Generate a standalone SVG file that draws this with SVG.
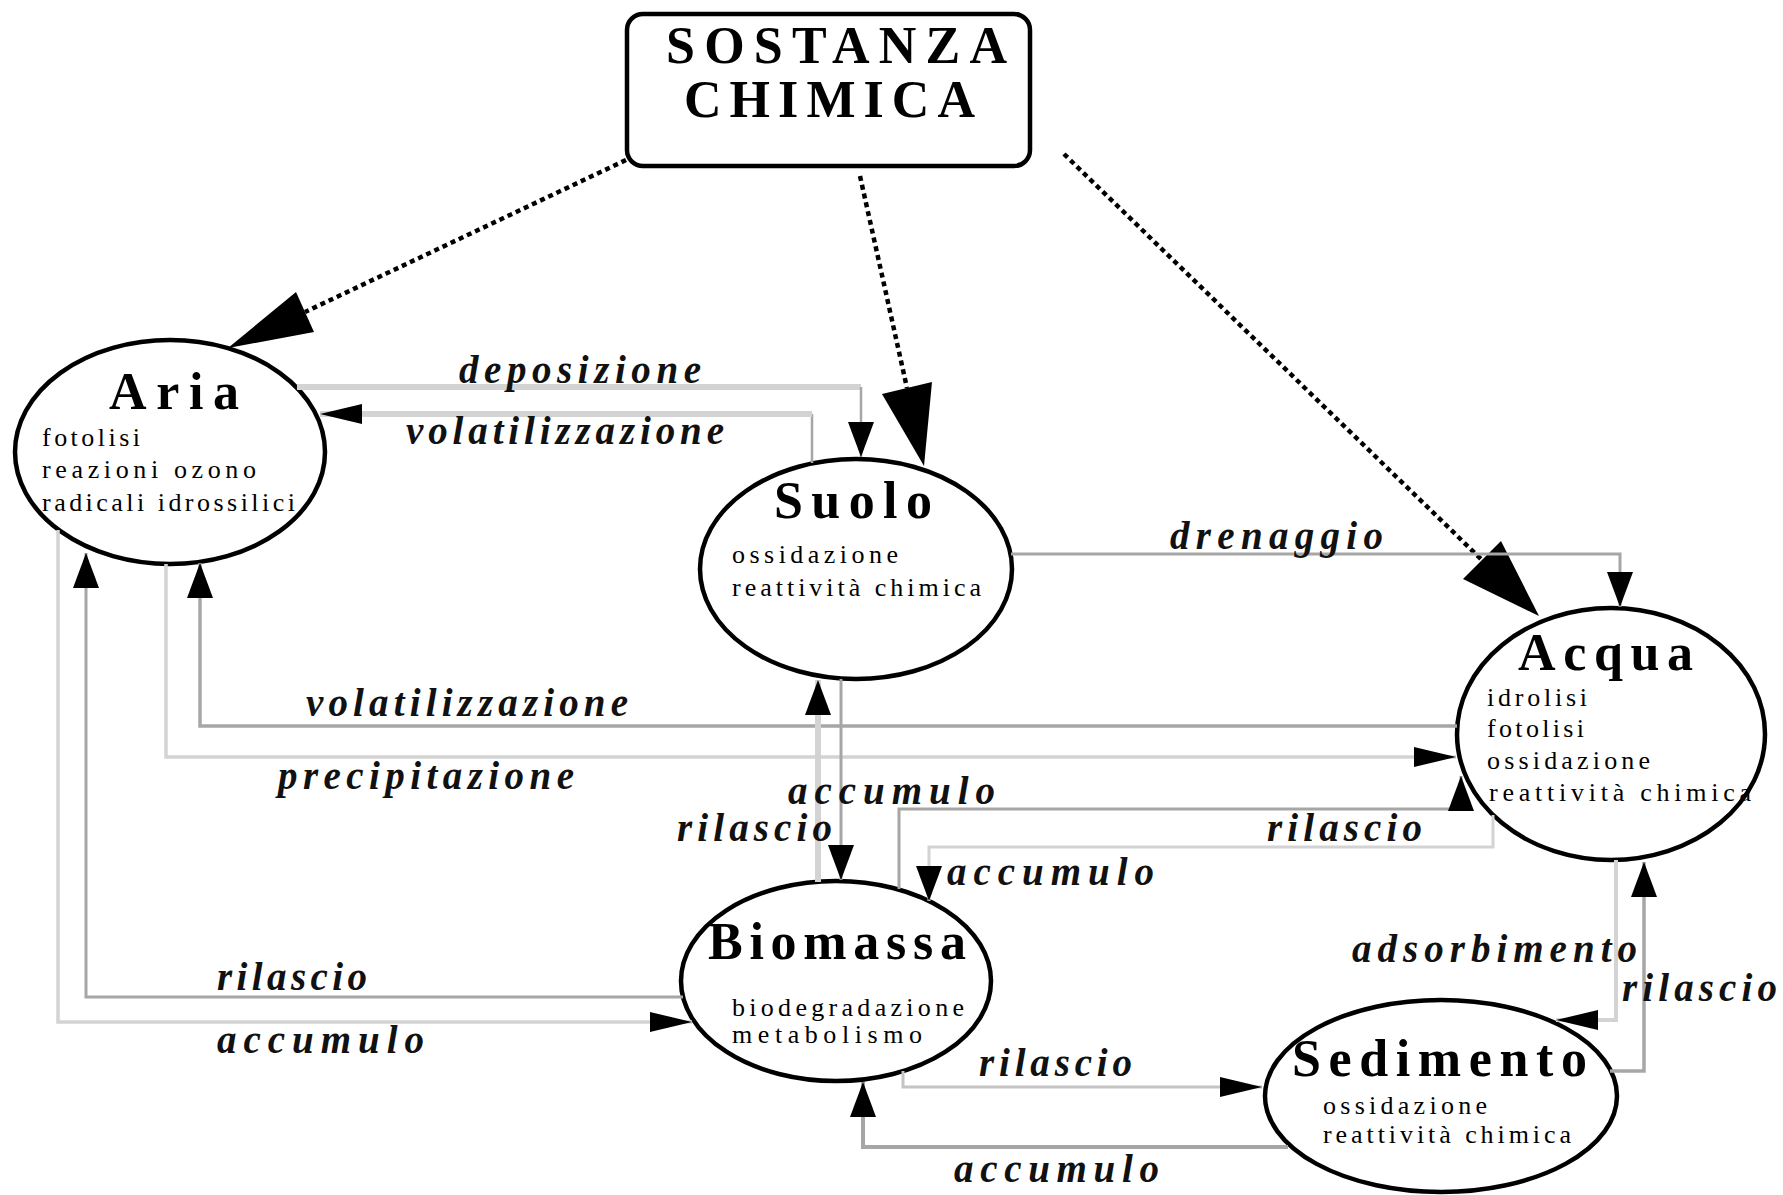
<svg xmlns="http://www.w3.org/2000/svg" width="1783" height="1195" viewBox="0 0 1783 1195">
<style>
.node{fill:#fff;stroke:#000;stroke-width:4.5}
.title{font-family:"Liberation Serif",serif;font-weight:bold;font-size:52px;fill:#000}
.sub{font-family:"Liberation Serif",serif;font-size:26px;fill:#000}
.lbl{font-family:"Liberation Serif",serif;font-weight:bold;font-style:italic;font-size:39px;fill:#111}
.lt{fill:none;stroke:#d3d3d3}
.md{fill:none;stroke:#a6a6a6}
.dot{fill:none;stroke:#000;stroke-width:4.5;stroke-dasharray:5 4}
</style>
<defs>
<marker id="arrV" markerUnits="userSpaceOnUse" markerWidth="36" markerHeight="26" refX="35" refY="13" orient="auto">
<path d="M0,0 L35,13 L0,26 z" fill="#000"/>
</marker>
<marker id="arrH" markerUnits="userSpaceOnUse" markerWidth="43" markerHeight="20" refX="42" refY="10" orient="auto">
<path d="M0,0 L42,10 L0,20 z" fill="#000"/>
</marker>
</defs>
<rect width="1783" height="1195" fill="#fff"/>

<g id="sostanza">
<rect class="node" x="627" y="14" width="403" height="152" rx="16"/>
<text class="title" x="666" y="63" textLength="341">SOSTANZA</text>
<text class="title" x="684" y="117" textLength="291">CHIMICA</text>
</g>

<g id="aria">
<ellipse class="node" cx="170" cy="452" rx="155" ry="112"/>
<text class="title" x="109" y="409" textLength="130">Aria</text>
<text class="sub" x="42" y="446" textLength="98">fotolisi</text>
<text class="sub" x="42" y="478" textLength="214">reazioni ozono</text>
<text class="sub" x="42" y="511" textLength="253">radicali idrossilici</text>
</g>

<g id="suolo">
<ellipse class="node" cx="856" cy="569" rx="156" ry="110"/>
<text class="title" x="774" y="518" textLength="158">Suolo</text>
<text class="sub" x="732" y="563" textLength="166">ossidazione</text>
<text class="sub" x="732" y="596" textLength="249">reattività chimica</text>
</g>

<g id="acqua">
<ellipse class="node" cx="1611" cy="734" rx="154" ry="126"/>
<text class="title" x="1518" y="670" textLength="175">Acqua</text>
<text class="sub" x="1487" y="706" textLength="100">idrolisi</text>
<text class="sub" x="1487" y="737" textLength="97">fotolisi</text>
<text class="sub" x="1487" y="769" textLength="163">ossidazione</text>
<text class="sub" x="1489" y="801" textLength="262">reattività chimica</text>
</g>

<g id="biomassa">
<ellipse class="node" cx="836" cy="981" rx="155" ry="100"/>
<text class="title" x="708" y="959" textLength="258">Biomassa</text>
<text class="sub" x="732" y="1016" textLength="232">biodegradazione</text>
<text class="sub" x="732" y="1043" textLength="190">metabolismo</text>
</g>

<g id="sedimento">
<ellipse class="node" cx="1441" cy="1096" rx="176" ry="96"/>
<text class="title" x="1292" y="1076" textLength="295">Sedimento</text>
<text class="sub" x="1323" y="1114" textLength="164">ossidazione</text>
<text class="sub" x="1323" y="1143" textLength="248">reattività chimica</text>
</g>

<g id="connectors">
<path class="dot" d="M626,160 L305,312"/>
<polygon points="228,348 314,332 296,292" fill="#000"/>
<path class="dot" d="M860,176 L907,388"/>
<polygon points="924,466 932,382 882,394" fill="#000"/>
<path class="dot" d="M1064,154 L1482,560"/>
<polygon points="1539,616 1501,541 1463,579" fill="#000"/>

<path class="lt" stroke-width="6" d="M297,387 H861"/>
<path class="md" stroke-width="2.5" d="M861,387 V457" marker-end="url(#arrV)"/>
<path class="md" stroke-width="2.5" d="M812,463 V414"/>
<path class="lt" stroke-width="6" d="M812,414 H320" marker-end="url(#arrH)"/>
<path class="md" stroke-width="3" d="M1011,554 H1620 V607" marker-end="url(#arrV)"/>
<path class="md" stroke-width="3.5" d="M1457,726 H200 V563" marker-end="url(#arrV)"/>
<path class="lt" stroke-width="3.5" d="M166,564 V757 H1456" marker-end="url(#arrH)"/>
<path class="md" stroke-width="3" d="M683,997 H86 V553" marker-end="url(#arrV)"/>
<path class="lt" stroke-width="3.5" d="M58,530 V1022 H692" marker-end="url(#arrH)"/>
<path class="lt" stroke-width="6" d="M818,882 V680" marker-end="url(#arrV)"/>
<path class="md" stroke-width="3" d="M841,679 V880" marker-end="url(#arrV)"/>
<path class="md" stroke-width="3" d="M899,889 V809 H1461 V776" marker-end="url(#arrV)"/>
<path class="lt" stroke-width="3" d="M1493,815 V847 H929 V901" marker-end="url(#arrV)"/>
<path class="lt" stroke-width="4" d="M1616,860 V1020 H1556" marker-end="url(#arrH)"/>
<path class="md" stroke-width="3.5" d="M1610,1071 H1644 V862" marker-end="url(#arrV)"/>
<path fill="none" stroke="#c4c4c4" stroke-width="3" d="M903,1071 V1087 H1262" marker-end="url(#arrH)"/>
<path class="md" stroke-width="4" d="M1288,1147 H863 V1082" marker-end="url(#arrV)"/>

<text class="lbl" x="459" y="383" textLength="242">deposizione</text>
<text class="lbl" x="406" y="444" textLength="318">volatilizzazione</text>
<text class="lbl" x="1170" y="549" textLength="213">drenaggio</text>
<text class="lbl" x="306" y="716" textLength="322">volatilizzazione</text>
<text class="lbl" x="278" y="789" textLength="296">precipitazione</text>
<text class="lbl" x="788" y="804" textLength="207">accumulo</text>
<text class="lbl" x="677" y="841" textLength="155">rilascio</text>
<text class="lbl" x="1267" y="841" textLength="155">rilascio</text>
<text class="lbl" x="947" y="885" textLength="207">accumulo</text>
<text class="lbl" x="217" y="990" textLength="150">rilascio</text>
<text class="lbl" x="217" y="1053" textLength="207">accumulo</text>
<text class="lbl" x="1352" y="962" textLength="285">adsorbimento</text>
<text class="lbl" x="1622" y="1001" textLength="155">rilascio</text>
<text class="lbl" x="979" y="1076" textLength="153">rilascio</text>
<text class="lbl" x="954" y="1182" textLength="205">accumulo</text>
</g>
</svg>
